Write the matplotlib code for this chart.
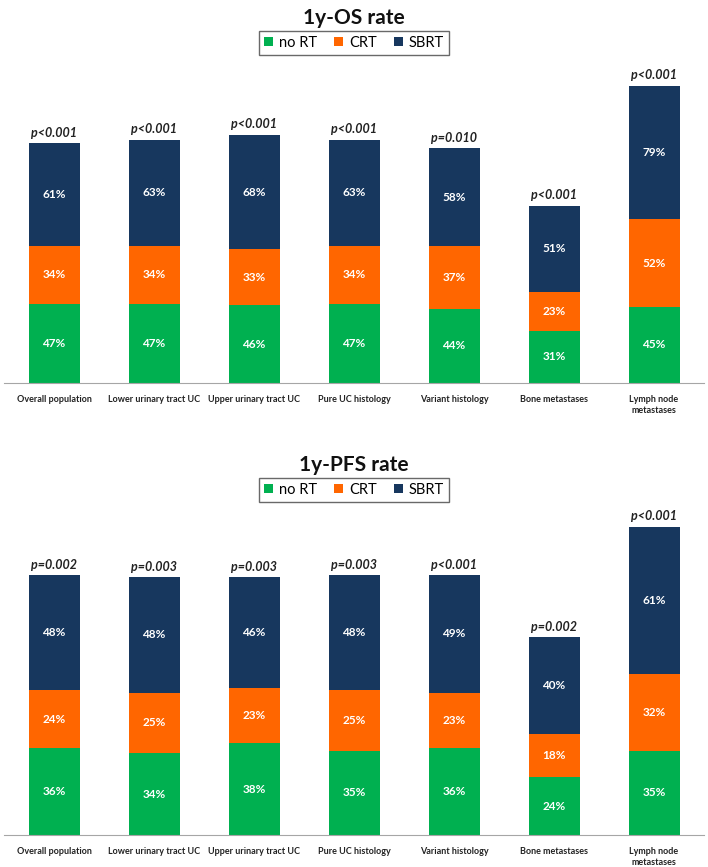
import matplotlib.pyplot as plt
import numpy as np

categories = ['Overall population', 'Lower urinary tract UC', 'Upper urinary tract UC',
              'Pure UC histology', 'Variant histology', 'Bone metastases',
              'Lymph node\nmetastases']

# 1y-OS rate
os_nort = [47, 47, 46, 47, 44, 31, 45]
os_crt = [34, 34, 33, 34, 37, 23, 52]
os_sbrt = [61, 63, 68, 63, 58, 51, 79]
os_p = ['p<0.001', 'p<0.001', 'p<0.001', 'p<0.001', 'p=0.010', 'p<0.001', 'p<0.001']

# 1y-PFS rate
pfs_nort = [36, 34, 38, 35, 36, 24, 35]
pfs_crt = [24, 25, 23, 25, 23, 18, 32]
pfs_sbrt = [48, 48, 46, 48, 49, 40, 61]
pfs_p = ['p=0.002', 'p=0.003', 'p=0.003', 'p=0.003', 'p<0.001', 'p=0.002', 'p<0.001']

series_names = ['no RT', 'CRT', 'SBRT']
colors = ['#00B050', '#FF6600', '#17375E']

plt.rcParams['font.family'] = ['Lato', 'DejaVu Sans']

fig = plt.figure(figsize=(7.08, 8.67), dpi=100)
W, H = 708.0, 867.0


def draw_panel(rect, ymax, title, title_y, legend_y, nort, crt, sbrt, pvals):
    ax = fig.add_axes(rect)
    x = np.arange(len(categories))
    bottom = np.zeros(len(categories))
    for vals, col, name in zip([nort, crt, sbrt], colors, series_names):
        vals = np.array(vals, dtype=float)
        ax.bar(x, vals, 0.51, bottom=bottom, color=col, label=name)
        for xi, b, v in zip(x, bottom, vals):
            ax.text(xi, b + v / 2, '%d%%' % v, ha='center', va='center',
                    color='white', fontsize=8.5, fontweight='bold')
        bottom = bottom + vals
    for xi, top, p in zip(x, bottom, pvals):
        ax.annotate(p, (xi, top), xytext=(0, 3), textcoords='offset points',
                    ha='center', va='bottom', fontsize=9,
                    fontweight='bold', style='italic', color='#222222')
    ax.set_xlim(-0.5, 6.5)
    ax.set_ylim(0, ymax)
    ax.set_yticks([])
    ax.set_xticks(x)
    ax.set_xticklabels(categories, fontsize=6.5, fontweight='bold', color='#222222')
    ax.tick_params(axis='x', length=0, pad=9)
    for s in ['top', 'left', 'right']:
        ax.spines[s].set_visible(False)
    ax.spines['bottom'].set_color('#A6A6A6')
    fig.text(0.5, 1 - title_y / H, title, ha='center', va='center',
             fontsize=15, fontweight='bold', color='#111111')
    leg = ax.legend(loc='center', bbox_to_anchor=(0.5, 1 - legend_y / H),
                    bbox_transform=fig.transFigure, ncol=3, frameon=True,
                    fancybox=False, edgecolor='#444444', fontsize=10.5,
                    handlelength=0.6, handleheight=0.6, handletextpad=0.4,
                    columnspacing=1.2, borderpad=0.35)
    leg.get_frame().set_linewidth(1.0)
    return ax


# top panel: baseline at y=383 px, top at 70 px
draw_panel([4 / W, (H - 383) / H, 700 / W, 313 / H], 313 / 1.69,
           '1y-OS rate', 18, 43, os_nort, os_crt, os_sbrt, os_p)
# bottom panel: baseline at y=835 px, top at 505 px
draw_panel([4 / W, (H - 835) / H, 700 / W, 330 / H], 330 / 2.41,
           '1y-PFS rate', 465, 490, pfs_nort, pfs_crt, pfs_sbrt, pfs_p)

fig.savefig('out.png', dpi=100)
